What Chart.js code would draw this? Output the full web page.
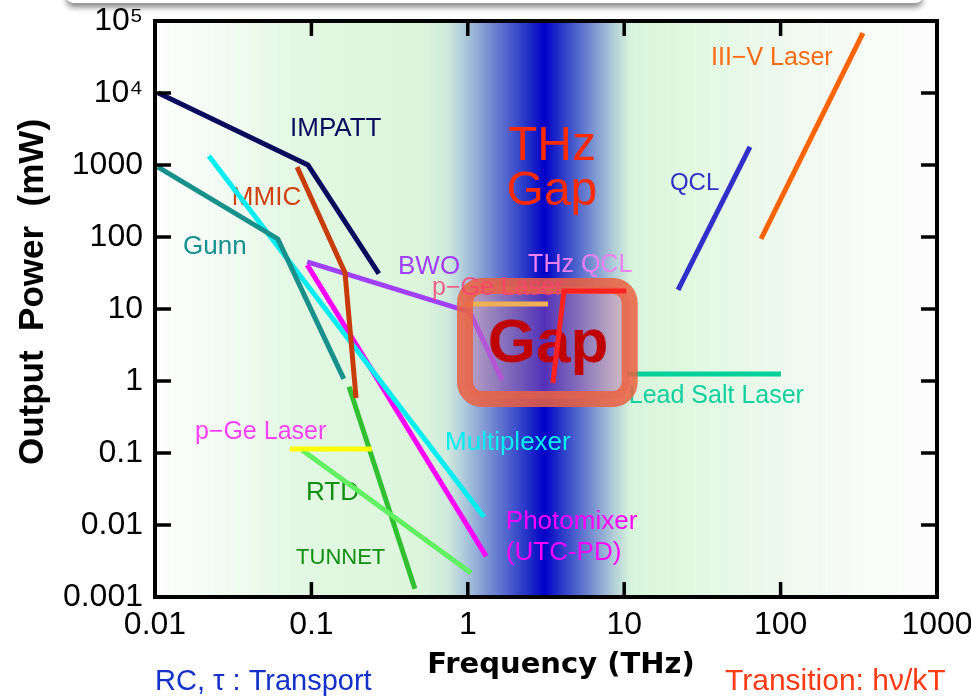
<!DOCTYPE html>
<html>
<head>
<meta charset="utf-8">
<title>Output power of terahertz sources</title>
<script src="https://cdn.jsdelivr.net/npm/chart.js@4.4.1/dist/chart.umd.min.js"></script>
<style>
  html, body { margin: 0; padding: 0; background: #fff; overflow: hidden; }
  #wrap { position: relative; width: 971px; height: 697px; }
  #shade {
    position: absolute; left: 67px; top: -30px; width: 855px; height: 33px;
    background: #fff; border-bottom: 1px solid #9a9a9a;
    box-shadow: 0 3px 6px rgba(0,0,0,0.5); border-radius: 0 0 6px 6px;
  }
  canvas { position: absolute; left: 0; top: 0; }
</style>
</head>
<body>
<div id="wrap">
  <div id="shade"></div>
  <canvas id="c" width="971" height="697"></canvas>
</div>
<script>
// ---- axis ticks ----
const xTickValues = [0.01, 0.1, 1, 10, 100, 1000];
const xTickLabels = ['0.01', '0.1', '1', '10', '100', '1000'];
const yTickValues = [0.001, 0.01, 0.1, 1, 10, 100, 1000, 10000, 100000];
const yTickLabels = ['0.001', '0.01', '0.1', '1', '10', '100', '1000', '10\u2074', '10\u2075'];

// ---- sources: frequency (THz) / output power (mW) ----
const thzQclFreq = [3.5, 4.12, 10.3];
const thzQclPower = [0.94, 17.8, 17.8];
const impattFreq = [0.0105, 0.095, 0.27];
const impattPower = [10000, 1000, 31];
const mmicFreq = [0.081, 0.164, 0.193];
const mmicPower = [940, 32, 0.58];
const gunnFreq = [0.0104, 0.061, 0.161];
const gunnPower = [940, 94, 1.07];
const multiplexerFreq = [0.0221, 1.27];
const multiplexerPower = [1330, 0.0129];
const photomixerFreq = [0.094, 1.31];
const photomixerPower = [41, 0.0037];
const bwoFreq = [0.094, 1.03, 1.66];
const bwoPower = [45, 9.1, 1.03];
const pGeLowFreq = [0.073, 0.244];
const pGeLowPower = [0.114, 0.114];
const pGeHighFreq = [0.99, 3.26];
const pGeHighPower = [11.7, 11.7];
const leadSaltFreq = [10.4, 100.6];
const leadSaltPower = [1.25, 1.25];
const qclFreq = [22.1, 63.7];
const qclPower = [18.4, 1780];
const iiiVFreq = [75, 336];
const iiiVPower = [94, 68000];
const rtdFreq = [0.087, 1.05];
const rtdPower = [0.11, 0.00215];
const tunnetFreq = [0.174, 0.459];
const tunnetPower = [0.83, 0.0013];

// ---- styling ----
const FONT = "'Liberation Sans', Arial, sans-serif";

// first entry is painted last (on top of the gap box)
const seriesStyles = [
  { label: 'THz QCL', f: thzQclFreq, p: thzQclPower, color: '#ff2020' },
  { label: 'IMPATT', f: impattFreq, p: impattPower, color: '#0b0b5e' },
  { label: 'MMIC', f: mmicFreq, p: mmicPower, color: '#c83c0a' },
  { label: 'Gunn', f: gunnFreq, p: gunnPower, color: '#18908c' },
  { label: 'Multiplexer', f: multiplexerFreq, p: multiplexerPower, color: '#00eef2' },
  { label: 'Photomixer (UTC-PD)', f: photomixerFreq, p: photomixerPower, color: '#ff00ff' },
  { label: 'BWO', f: bwoFreq, p: bwoPower, color: '#a040f8' },
  { label: 'p-Ge Laser (low)', f: pGeLowFreq, p: pGeLowPower, color: '#ffff00' },
  { label: 'p-Ge Laser', f: pGeHighFreq, p: pGeHighPower, color: '#ffd820' },
  { label: 'Lead Salt Laser', f: leadSaltFreq, p: leadSaltPower, color: '#00d09a' },
  { label: 'QCL', f: qclFreq, p: qclPower, color: '#3030c8' },
  { label: 'III-V Laser', f: iiiVFreq, p: iiiVPower, color: '#ff6400' },
  { label: 'RTD', f: rtdFreq, p: rtdPower, color: '#60f060' },
  { label: 'TUNNET', f: tunnetFreq, p: tunnetPower, color: '#30c030' }
];

// background band: frequency stop -> colour
const bandStops = [
  [0.01, '#fdfdfd'], [0.03, '#f2fbf2'], [0.08, '#e2f8e2'], [0.5, '#dcf6dc'],
  [0.75, '#cfe9dc'], [1.0, '#a6c2da'], [1.5, '#6a80d0'], [2.3, '#2a3ac8'],
  [3.1, '#0000c8'], [4.0, '#2a3ac8'], [6.0, '#7088d0'], [8.5, '#b0ccd8'],
  [11, '#d8f4dc'], [20, '#def8de'], [100, '#eef9ee'], [300, '#f8fbf8'], [1000, '#fdfdfd']
];

// series captions, anchored in data space (left edge, vertical middle)
const captions = [
  { text: 'IMPATT', f: 0.073, p: 3162, color: '#0b0b5e', size: 26 },
  { text: 'MMIC', f: 0.031, p: 348, color: '#d04010', size: 26 },
  { text: 'Gunn', f: 0.0151, p: 72.6, color: '#169090', size: 26 },
  { text: 'BWO', f: 0.358, p: 38.3, color: '#a040f8', size: 26 },
  { text: 'THz QCL', f: 2.43, p: 40.8, color: '#f080f0', size: 25 },
  { text: 'QCL', f: 19.6, p: 562, color: '#3030c8', size: 24 },
  { text: 'III\u2212V Laser', f: 35.9, p: 30600, color: '#ff6a10', size: 25 },
  { text: 'Lead Salt Laser', f: 10.7, p: 0.619, color: '#10d0a0', size: 25 },
  { text: 'Multiplexer', f: 0.715, p: 0.138, color: '#00eef2', size: 26 },
  { text: 'Photomixer', f: 1.75, p: 0.011, color: '#ff00ff', size: 26 },
  { text: '(UTC-PD)', f: 1.75, p: 0.00408, color: '#ff00ff', size: 26 },
  { text: 'p\u2212Ge Laser', f: 0.018, p: 0.196, color: '#ff40ff', size: 25 },
  { text: 'RTD', f: 0.0923, p: 0.0278, color: '#109010', size: 26 },
  { text: 'TUNNET', f: 0.0798, p: 0.00348, color: '#109010', size: 22 }
];
// caption that sits on the gap box border
const boxCaption = { text: 'p\u2212Ge Laser', f: 0.59, p: 19.6, color: 'rgba(255,64,112,0.8)', size: 25 };

// THz gap box (outer corners) and titles
const gapBox = { f0: 0.853, f1: 12.2, p0: 27.0, p1: 0.435 };
const gapTitle = { f: 3.45, pTop: 1778, pBottom: 422 };
const gapWord = { f: 3.26, p: 3.16 };

function labelFor(values, labels, v) {
  for (let i = 0; i < values.length; i++) {
    if (Math.abs(Math.log10(v) - Math.log10(values[i])) < 1e-6) return labels[i];
  }
  return '';
}

function drawCaption(ctx, x, y, c) {
  ctx.font = c.size + 'px ' + FONT;
  ctx.fillStyle = c.color;
  ctx.textAlign = 'left';
  ctx.textBaseline = 'middle';
  ctx.fillText(c.text, x.getPixelForValue(c.f), y.getPixelForValue(c.p));
}

const decor = {
  id: 'decor',
  beforeDatasetsDraw(chart) {
    const { ctx, chartArea: a, scales: { x, y } } = chart;
    const w = a.right - a.left;
    const g = ctx.createLinearGradient(a.left, 0, a.right, 0);
    bandStops.forEach(([f, c]) => {
      const t = (x.getPixelForValue(f) - a.left) / w;
      g.addColorStop(Math.min(1, Math.max(0, t)), c);
    });
    ctx.save();
    ctx.fillStyle = g;
    ctx.fillRect(a.left, a.top, w, a.bottom - a.top);

    // captions
    captions.forEach(c => drawCaption(ctx, x, y, c));

    // "THz Gap" heading
    ctx.textAlign = 'center';
    ctx.textBaseline = 'middle';
    ctx.font = '48px ' + FONT;
    ctx.fillStyle = '#ff2a00';
    const gx = x.getPixelForValue(gapTitle.f);
    ctx.fillText('THz', gx, y.getPixelForValue(gapTitle.pTop));
    ctx.fillText('Gap', gx, y.getPixelForValue(gapTitle.pBottom));
    ctx.restore();
  },
  beforeDatasetDraw(chart, args) {
    // the gap box goes under the THz QCL trace and over every other trace
    if (args.index !== 0) return;
    const { ctx, scales: { x, y } } = chart;
    ctx.save();
    const bx0 = x.getPixelForValue(gapBox.f0), bx1 = x.getPixelForValue(gapBox.f1);
    const by0 = y.getPixelForValue(gapBox.p0), by1 = y.getPixelForValue(gapBox.p1);
    const inset = 8, r = 17;
    const rx = bx0 + inset, ry = by0 + inset, rw = bx1 - bx0 - 2 * inset, rh = by1 - by0 - 2 * inset;
    ctx.beginPath();
    if (ctx.roundRect) ctx.roundRect(rx, ry, rw, rh, r);
    else ctx.rect(rx, ry, rw, rh);
    ctx.fillStyle = 'rgba(210,120,160,0.40)';
    ctx.fill();
    ctx.lineWidth = 16;
    ctx.strokeStyle = 'rgba(236,96,64,0.85)';
    ctx.stroke();

    drawCaption(ctx, x, y, boxCaption);

    ctx.font = 'bold 62px ' + FONT;
    ctx.fillStyle = '#c00000';
    ctx.textAlign = 'center';
    ctx.textBaseline = 'middle';
    ctx.fillText('Gap', x.getPixelForValue(gapWord.f), y.getPixelForValue(gapWord.p));
    ctx.restore();
  },
  afterDatasetsDraw(chart) {
    const { ctx, chartArea: a, scales: { x, y } } = chart;
    ctx.save();
    // plot frame with inward tick marks
    ctx.strokeStyle = '#000';
    ctx.lineWidth = 4;
    ctx.strokeRect(a.left, a.top, a.right - a.left, a.bottom - a.top);
    ctx.lineWidth = 3.5;
    ctx.beginPath();
    xTickValues.slice(1, -1).forEach(v => {
      const px = x.getPixelForValue(v);
      ctx.moveTo(px, a.bottom); ctx.lineTo(px, a.bottom - 15);
      ctx.moveTo(px, a.top); ctx.lineTo(px, a.top + 15);
    });
    yTickValues.slice(1, -1).forEach(v => {
      const py = y.getPixelForValue(v);
      ctx.moveTo(a.left, py); ctx.lineTo(a.left + 16, py);
      ctx.moveTo(a.right, py); ctx.lineTo(a.right - 16, py);
    });
    ctx.stroke();
    ctx.restore();
  },
  afterDraw(chart) {
    const { ctx } = chart;
    ctx.save();
    // axis titles
    ctx.fillStyle = '#000';
    ctx.textAlign = 'center';
    ctx.textBaseline = 'alphabetic';
    ctx.save();
    ctx.translate(43, 292);
    ctx.rotate(-Math.PI / 2);
    ctx.font = "bold 35px " + FONT;
    ctx.fillText('Output  Power  (mW)', 0, 0);
    ctx.restore();
    ctx.font = "bold 29px 'DejaVu Sans', sans-serif";
    ctx.fillText('Frequency (THz)', 561, 673);

    // mechanism notes under the axis
    ctx.textAlign = 'left';
    ctx.font = '29px ' + FONT;
    ctx.fillStyle = '#1432c8';
    ctx.fillText('RC, \u03c4 : Transport', 155, 690);
    ctx.font = '30px ' + FONT;
    ctx.fillStyle = '#ff3a14';
    ctx.fillText('Transition: h\u03bd/kT', 725, 690);
    ctx.restore();
  }
};

const datasets = seriesStyles.map(s => ({
  label: s.label,
  data: s.f.map((f, i) => ({ x: f, y: s.p[i] })),
  borderColor: s.color,
  backgroundColor: s.color,
  borderWidth: 5,
  showLine: true,
  pointRadius: 0,
  tension: 0,
  fill: false
}));

new Chart(document.getElementById('c'), {
  type: 'scatter',
  data: { datasets },
  options: {
    responsive: false,
    animation: false,
    devicePixelRatio: 1,
    layout: { padding: { top: 21, right: 34, bottom: 0, left: 0 } },
    plugins: { legend: { display: false }, tooltip: { enabled: false }, title: { display: false } },
    scales: {
      x: {
        type: 'logarithmic', min: 0.01, max: 1000,
        grid: { display: false, drawTicks: false },
        border: { display: false },
        afterBuildTicks: s => { s.ticks = xTickValues.map(v => ({ value: v })); },
        afterFit: s => { s.height = 100; s.paddingLeft = 0; s.paddingRight = 0; },
        ticks: {
          font: { family: FONT, size: 32 }, color: '#000', padding: 9,
          autoSkip: false, maxRotation: 0, minRotation: 0,
          callback: v => labelFor(xTickValues, xTickLabels, v)
        }
      },
      y: {
        type: 'logarithmic', min: 0.001, max: 100000,
        grid: { display: false, drawTicks: false },
        border: { display: false },
        afterBuildTicks: s => { s.ticks = yTickValues.map(v => ({ value: v })); },
        afterFit: s => { s.width = 155; s.paddingTop = 0; s.paddingBottom = 0; },
        ticks: {
          font: { family: FONT, size: 32 }, color: '#000', padding: 12,
          autoSkip: false,
          callback: v => labelFor(yTickValues, yTickLabels, v)
        }
      }
    }
  },
  plugins: [decor]
});
</script>
</body>
</html>
